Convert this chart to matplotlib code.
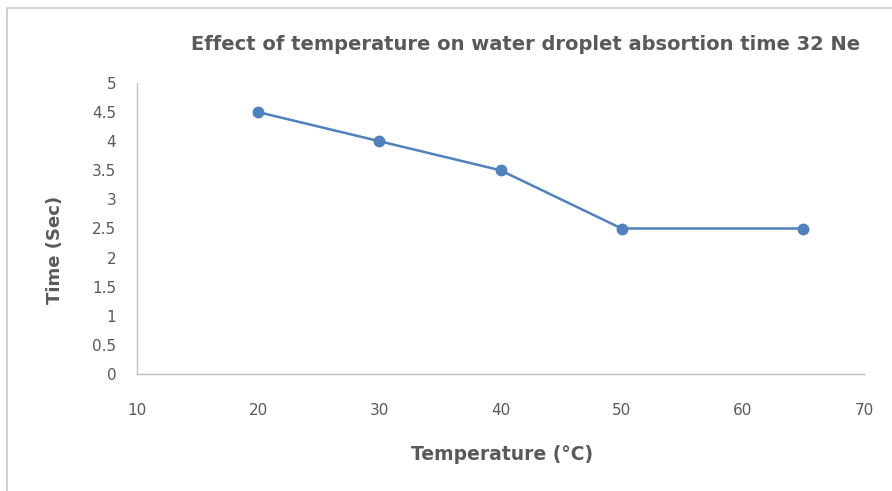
import matplotlib
matplotlib.use("Agg")
import matplotlib.pyplot as plt
from matplotlib.patches import Rectangle

temperature = [20, 30, 40, 50, 65]
time_sec = [4.5, 4.0, 3.5, 2.5, 2.5]
x_ticks = [10, 20, 30, 40, 50, 60, 70]
y_ticks = [0, 0.5, 1, 1.5, 2, 2.5, 3, 3.5, 4, 4.5, 5]
y_tick_labels = ["0", "0.5", "1", "1.5", "2", "2.5", "3", "3.5", "4", "4.5", "5"]

W, H = 892, 491
fig = plt.figure(figsize=(W / 100, H / 100), dpi=100)
fig.patches.append(Rectangle((7 / W, -0.1), 1.2, 1 - 8 / H + 0.1, transform=fig.transFigure,
                             fill=False, edgecolor="#c8c8c8", linewidth=1.2))

ax = fig.add_axes([137 / W, 1 - 374 / H, (864 - 137) / W, (374 - 83) / H])
ax.plot(temperature, time_sec, color="#4F81BD", linewidth=1.8, marker="o",
        markersize=7.5, markerfacecolor="#4F81BD", markeredgecolor="#4F81BD")
ax.set_xlim(10, 70)
ax.set_ylim(0, 5)
ax.set_xticks(x_ticks)
ax.set_yticks(y_ticks)
ax.set_yticklabels(y_tick_labels)
for s in ["top", "right"]:
    ax.spines[s].set_visible(False)
for s in ["left", "bottom"]:
    ax.spines[s].set_color("#bfbfbf")
    ax.spines[s].set_linewidth(1)
ax.tick_params(length=0, labelsize=11, labelcolor="#595959")
ax.tick_params(axis="x", pad=21)
ax.tick_params(axis="y", pad=15)
for lbl in ax.get_xticklabels() + ax.get_yticklabels():
    lbl.set_family("DejaVu Sans")

fig.text(526 / W, 1 - 44 / H, "Effect of temperature on water droplet absortion time 32 Ne",
         ha="center", va="center", fontsize=14, fontweight="bold", color="#595959",
         family="DejaVu Sans")
fig.text(502 / W, 1 - 454 / H, "Temperature (\u00b0C)", ha="center", va="center",
         fontsize=13.5, fontweight="bold", color="#595959", family="DejaVu Sans")
fig.text(55 / W, 1 - 250 / H, "Time (Sec)", ha="center", va="center", rotation=90,
         fontsize=13, fontweight="bold", color="#595959", family="DejaVu Sans")

fig.savefig("out.png", dpi=100)
